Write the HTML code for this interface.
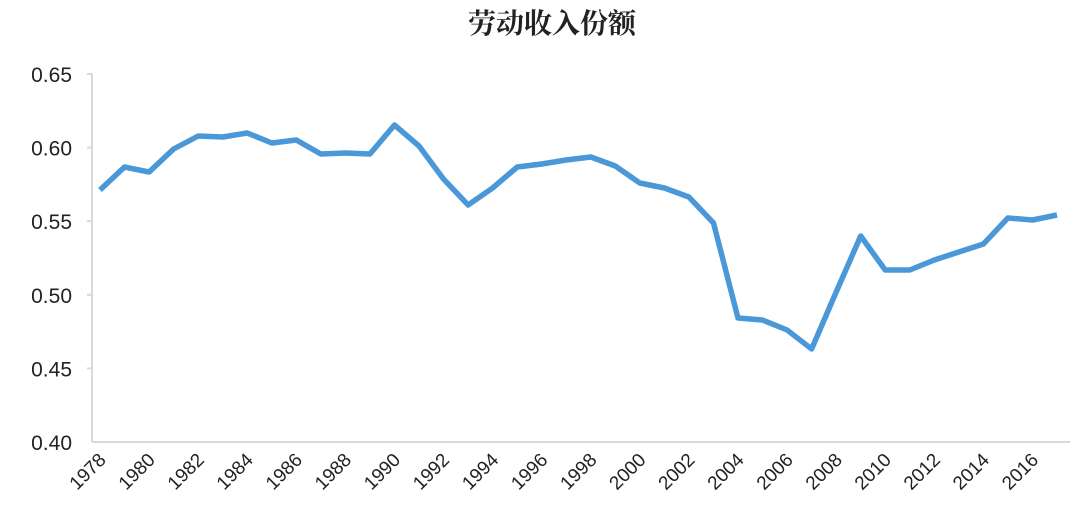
<!DOCTYPE html>
<html><head><meta charset="utf-8"><style>body{margin:0;background:#fff}</style></head><body>
<svg width="1080" height="520" xmlns="http://www.w3.org/2000/svg">
<rect width="1080" height="520" fill="#fff"/>
<text x="552" y="33" text-anchor="middle" font-family="'Noto Serif CJK SC','Noto Sans CJK SC',serif" font-weight="bold" font-size="28" fill="#222">劳动收入份额</text>
<g stroke="#d9d9d9" stroke-width="2" fill="none">
<line x1="92" y1="74" x2="92" y2="442"/>
<line x1="92" y1="442" x2="1070" y2="442"/>
<line x1="87" y1="74" x2="92" y2="74"/><line x1="87" y1="147.6" x2="92" y2="147.6"/><line x1="87" y1="221.2" x2="92" y2="221.2"/><line x1="87" y1="294.8" x2="92" y2="294.8"/><line x1="87" y1="368.4" x2="92" y2="368.4"/>
</g>
<g font-family="'Liberation Sans',sans-serif" font-size="21" fill="#222" text-anchor="end">
<text x="72" y="82">0.65</text><text x="72" y="155.6">0.60</text><text x="72" y="229.2">0.55</text><text x="72" y="302.8">0.50</text><text x="72" y="376.4">0.45</text><text x="72" y="450">0.40</text>
</g>
<polyline fill="none" stroke="#4a98d8" stroke-width="5.5" stroke-linejoin="round" points="100,190 124.5,167 149.1,172 173.6,149 198.2,136 222.7,137 247.2,133 271.8,143 296.3,140 320.8,154 345.4,153 369.9,154 394.5,125 419,146 443.5,179 468.1,205 492.6,188 517.2,167 541.7,164 566.2,160 590.8,157 615.3,166 639.8,183 664.4,188 688.9,197 713.5,223 738,318 762.5,320 787.1,330 811.6,349 836.2,292 860.7,236 885.2,270 909.8,270 934.3,260 958.8,252 983.4,244 1007.9,218 1032.5,220 1057,215"/>
<g font-family="'Liberation Sans',sans-serif" font-size="19" fill="#222" text-anchor="end">
<text transform="translate(107,461) rotate(-45)">1978</text>
<text transform="translate(156.1,461) rotate(-45)">1980</text>
<text transform="translate(205.2,461) rotate(-45)">1982</text>
<text transform="translate(254.2,461) rotate(-45)">1984</text>
<text transform="translate(303.3,461) rotate(-45)">1986</text>
<text transform="translate(352.4,461) rotate(-45)">1988</text>
<text transform="translate(401.5,461) rotate(-45)">1990</text>
<text transform="translate(450.5,461) rotate(-45)">1992</text>
<text transform="translate(499.6,461) rotate(-45)">1994</text>
<text transform="translate(548.7,461) rotate(-45)">1996</text>
<text transform="translate(597.8,461) rotate(-45)">1998</text>
<text transform="translate(646.8,461) rotate(-45)">2000</text>
<text transform="translate(695.9,461) rotate(-45)">2002</text>
<text transform="translate(745,461) rotate(-45)">2004</text>
<text transform="translate(794.1,461) rotate(-45)">2006</text>
<text transform="translate(843.2,461) rotate(-45)">2008</text>
<text transform="translate(892.2,461) rotate(-45)">2010</text>
<text transform="translate(941.3,461) rotate(-45)">2012</text>
<text transform="translate(990.4,461) rotate(-45)">2014</text>
<text transform="translate(1039.5,461) rotate(-45)">2016</text>
</g>
</svg>
</body></html>
